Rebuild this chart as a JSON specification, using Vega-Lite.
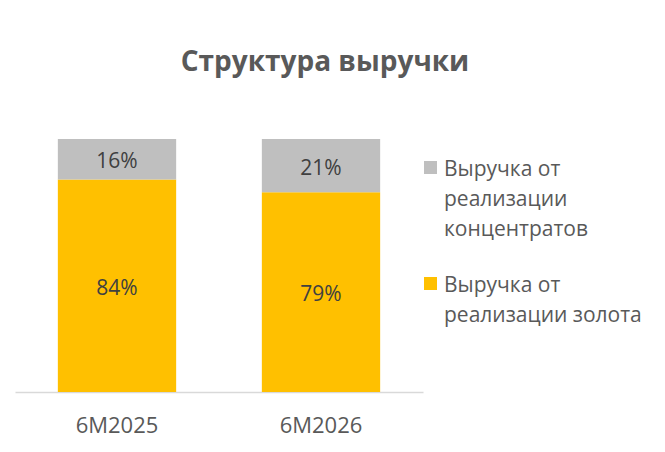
{
  "$schema": "https://vega.github.io/schema/vega-lite/v6.json",
  "autosize": "none",
  "width": 408,
  "height": 253,
  "padding": {"left": 15, "top": 139, "right": 242, "bottom": 60},
  "background": "white",
  "title": {
    "text": "Структура выручки",
    "font": "Open Sans",
    "fontSize": 28,
    "fontWeight": "bold",
    "color": "#595959",
    "dx": 106,
    "offset": 62
  },
  "data": {
    "values": [
      {"period": "6M2025", "series": "Выручка от реализации золота", "share": 0.84},
      {"period": "6M2025", "series": "Выручка от реализации концентратов", "share": 0.16},
      {"period": "6M2026", "series": "Выручка от реализации золота", "share": 0.79},
      {"period": "6M2026", "series": "Выручка от реализации концентратов", "share": 0.21}
    ]
  },
  "transform": [
    {"stack": "share", "groupby": ["period"], "sort": [{"field": "series", "order": "ascending"}], "as": ["y0", "y1"]},
    {"calculate": "(datum.y0 + datum.y1) / 2", "as": "ymid"}
  ],
  "encoding": {
    "x": {
      "field": "period",
      "type": "nominal",
      "scale": {"paddingInner": 0.42, "paddingOuter": 0.21},
      "axis": {
        "title": null,
        "labelAngle": 0,
        "labelFont": "Open Sans",
        "labelFontSize": 22,
        "labelColor": "#595959",
        "labelPadding": 15,
        "ticks": false,
        "domainColor": "#D9D9D9",
        "domainWidth": 1.5
      }
    }
  },
  "layer": [
    {
      "mark": {"type": "bar"},
      "encoding": {
        "y": {"field": "y0", "type": "quantitative", "scale": {"domain": [0, 1]}, "axis": null},
        "y2": {"field": "y1"},
        "color": {
          "field": "series",
          "type": "nominal",
          "scale": {
            "domain": ["Выручка от реализации концентратов", "Выручка от реализации золота"],
            "range": ["#BFBFBF", "#FFC000"]
          },
          "legend": {
            "title": null,
            "orient": "none",
            "legendX": 405,
            "legendY": 18,
            "symbolType": "square",
            "symbolSize": 170,
            "symbolStrokeWidth": 0,
            "labelFont": "Open Sans",
            "labelFontSize": 21,
            "labelColor": "#595959",
            "labelLimit": 300,
            "labelOffset": 3,
            "labelBaseline": "alphabetic",
            "rowPadding": 33,
            "labelExpr": "datum.label == 'Выручка от реализации концентратов' ? ['Выручка от', 'реализации', 'концентратов'] : ['Выручка от', 'реализации золота']"
          }
        }
      }
    },
    {
      "mark": {"type": "text", "font": "Open Sans", "fontSize": 21, "color": "#404040", "dy": 3},
      "encoding": {
        "y": {"field": "ymid", "type": "quantitative", "scale": {"domain": [0, 1]}},
        "text": {"field": "share", "type": "quantitative", "format": ".0%"}
      }
    }
  ],
  "config": {
    "view": {"stroke": null},
    "style": {"guide-label": {"lineHeight": 30, "dy": 8}}
  }
}
